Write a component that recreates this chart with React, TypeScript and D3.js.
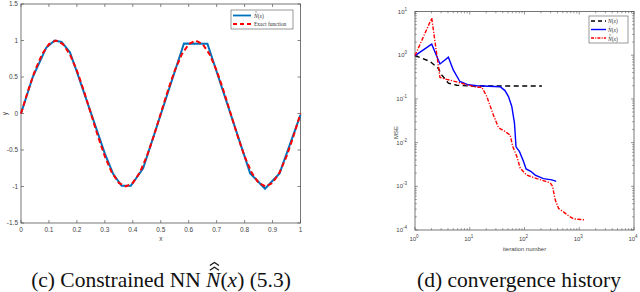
import React, { useRef, useEffect } from 'react';
import * as d3 from 'd3';

// left panel: NN fit vs exact function
const nnX = [0, 0.042, 0.09, 0.12, 0.145, 0.175, 0.2, 0.3, 0.33, 0.36, 0.393, 0.437, 0.583, 0.667, 0.82, 0.873, 0.925, 1];
const nnY = [0, 0.5, 0.9, 1.0, 0.98, 0.84, 0.57, -0.55, -0.83, -0.99, -0.99, -0.75, 0.96, 0.955, -0.82, -1.03, -0.82, -0.02];
const exactX = [0, 0.025, 0.05, 0.075, 0.1, 0.125, 0.15, 0.175, 0.2, 0.225, 0.25, 0.275, 0.3, 0.325, 0.35, 0.375, 0.4, 0.425, 0.45, 0.475, 0.5,
  0.525, 0.55, 0.575, 0.6, 0.625, 0.65, 0.675, 0.7, 0.725, 0.75, 0.775, 0.8, 0.825, 0.85, 0.875, 0.9, 0.925, 0.95, 0.975, 1];
const exactY = [0, 0.309, 0.588, 0.809, 0.951, 1, 0.951, 0.809, 0.588, 0.309, 0, -0.309, -0.588, -0.809, -0.951, -1, -0.951, -0.809, -0.588, -0.309, 0,
  0.309, 0.588, 0.809, 0.951, 1, 0.951, 0.809, 0.588, 0.309, 0, -0.309, -0.588, -0.809, -0.951, -1, -0.951, -0.809, -0.588, -0.309, 0];
const leftXTicks = [0, 0.1, 0.2, 0.3, 0.4, 0.5, 0.6, 0.7, 0.8, 0.9, 1];
const leftYTicks = [-1.5, -1, -0.5, 0, 0.5, 1, 1.5];

// right panel: convergence history
const nIter = [1, 1.88, 2.67, 3.07, 4.07, 5.8, 10, 50, 208];
const nMse = [0.98, 0.72, 0.5, 0.355, 0.23, 0.205, 0.198, 0.197, 0.197];
const hatIter = [1, 2.02, 2.86, 4.07, 5.0, 6.6, 9.4, 13.4, 35.9, 44, 51, 58.6, 65.6, 70, 81, 96, 107, 130, 157, 221, 316, 380];
const hatMse = [0.98, 1.79, 0.63, 0.9, 0.46, 0.25, 0.21, 0.2, 0.19, 0.155, 0.113, 0.067, 0.028, 0.008, 0.0062, 0.0037, 0.0025, 0.0022, 0.0018, 0.0015, 0.0014, 0.0013];
const hhIter = [1, 2.02, 2.86, 3.8, 5.8, 8.8, 13.4, 16.6, 20.5, 27, 33.5, 44, 54.6, 61, 72.5, 83.5, 110, 168, 295, 325, 364, 420, 515, 640, 790, 1290];
const hhMse = [0.98, 7.04, 0.31, 0.28, 0.245, 0.21, 0.185, 0.185, 0.113, 0.043, 0.022, 0.018, 0.015, 0.0081, 0.0048, 0.0026, 0.0018, 0.0015, 0.0012, 0.001, 0.00049, 0.00031, 0.00026, 0.00021, 0.00018, 0.00017];
const rightXExp = [0, 1, 2, 3, 4];
const rightYExp = [-4, -3, -2, -1, 0, 1];

type Part = { t: string; italic?: boolean; hats?: number };

const AX = '#555';
const LBL = '#444';
const SANS = "'Liberation Sans', Arial, sans-serif";
const SERIF = "'Liberation Serif', 'DejaVu Serif', serif";

function drawMath(g: any, x: number, y: number, parts: Part[], size: number, anchor: 'start' | 'middle', color: string) {
  const tmp = parts.map(p =>
    g.append('text')
      .attr('y', y)
      .attr('font-family', SERIF)
      .attr('font-size', size)
      .attr('font-style', p.italic ? 'italic' : 'normal')
      .attr('fill', color)
      .style('white-space', 'pre')
      .text(p.t)
  );
  const widths = tmp.map((t: any) => t.node().getComputedTextLength());
  const total = d3.sum(widths);
  let cx = anchor === 'middle' ? x - total / 2 : x;
  tmp.forEach((t: any, i: number) => {
    t.attr('x', cx);
    const hats = parts[i].hats || 0;
    for (let h = 0; h < hats; h++) {
      const mx = cx + widths[i] * 0.58;
      const hy = y - size * 0.78 - h * size * 0.22;
      const hw = widths[i] * 0.32;
      g.append('path')
        .attr('d', `M${mx - hw},${hy} L${mx},${hy - size * 0.14} L${mx + hw},${hy}`)
        .attr('fill', 'none')
        .attr('stroke', color)
        .attr('stroke-width', size * 0.05);
    }
    cx += widths[i];
  });
}

export default function App() {
  const ref = useRef<SVGSVGElement>(null);
  useEffect(() => {
    const svg = d3.select(ref.current);
    svg.selectAll('*').remove();
    svg.append('rect').attr('width', 640).attr('height', 292).attr('fill', '#fff');

    // ---------- left panel ----------
    const x = d3.scaleLinear().domain([0, 1]).range([21, 300.5]);
    const y = d3.scaleLinear().domain([-1.5, 1.5]).range([223, 4]);
    const L = svg.append('g');
    L.append('rect')
      .attr('x', 21).attr('y', 4).attr('width', 279.5).attr('height', 219)
      .attr('fill', 'none').attr('stroke', AX).attr('stroke-width', 0.8);
    leftXTicks.forEach(t => {
      L.append('line').attr('x1', x(t)).attr('x2', x(t)).attr('y1', 223).attr('y2', 220).attr('stroke', AX).attr('stroke-width', 0.7);
      L.append('line').attr('x1', x(t)).attr('x2', x(t)).attr('y1', 4).attr('y2', 7).attr('stroke', AX).attr('stroke-width', 0.7);
      L.append('text').attr('x', x(t)).attr('y', 232).attr('text-anchor', 'middle')
        .attr('font-family', SANS).attr('font-size', 6.5).attr('fill', LBL).text(String(t));
    });
    leftYTicks.forEach(t => {
      L.append('line').attr('x1', 21).attr('x2', 24).attr('y1', y(t)).attr('y2', y(t)).attr('stroke', AX).attr('stroke-width', 0.7);
      L.append('line').attr('x1', 300.5).attr('x2', 297.5).attr('y1', y(t)).attr('y2', y(t)).attr('stroke', AX).attr('stroke-width', 0.7);
      L.append('text').attr('x', 18).attr('y', y(t) + 2.3).attr('text-anchor', 'end')
        .attr('font-family', SANS).attr('font-size', 6.5).attr('fill', LBL).text(String(t));
    });
    L.append('text').attr('x', x(0.5)).attr('y', 241).attr('text-anchor', 'middle')
      .attr('font-family', SANS).attr('font-size', 6.5).attr('fill', LBL).text('x');
    L.append('text').attr('transform', `translate(6.5,${y(0)}) rotate(-90)`).attr('text-anchor', 'middle')
      .attr('font-family', SANS).attr('font-size', 6.5).attr('fill', LBL).text('y');

    const nnPath = d3.line<number>().x(d => x(d)).y((_, i) => y(nnY[i]));
    const exPath = d3.line<number>().x(d => x(d)).y((_, i) => y(exactY[i]));
    L.append('path').attr('d', nnPath(nnX)).attr('fill', 'none').attr('stroke', '#0072BD').attr('stroke-width', 2);
    L.append('path').attr('d', exPath(exactX)).attr('fill', 'none').attr('stroke', '#ff0000').attr('stroke-width', 2)
      .attr('stroke-dasharray', '5,3');

    // left legend
    L.append('rect').attr('x', 231).attr('y', 10).attr('width', 62).attr('height', 19)
      .attr('fill', '#fff').attr('stroke', AX).attr('stroke-width', 0.6);
    L.append('line').attr('x1', 233).attr('x2', 251).attr('y1', 15.5).attr('y2', 15.5).attr('stroke', '#0072BD').attr('stroke-width', 1.8);
    L.append('line').attr('x1', 233).attr('x2', 251).attr('y1', 24).attr('y2', 24).attr('stroke', '#ff0000').attr('stroke-width', 1.8)
      .attr('stroke-dasharray', '4,3');
    drawMath(L, 254, 17.5, [{ t: 'N', italic: true, hats: 2 }, { t: '(' }, { t: 'x', italic: true }, { t: ')' }], 5.5, 'start', '#333');
    drawMath(L, 254, 26, [{ t: 'Exact function' }], 5.5, 'start', '#333');

    // ---------- right panel ----------
    const rx = d3.scaleLog().domain([1, 1e4]).range([415, 634]);
    const ry = d3.scaleLog().domain([1e-4, 10]).range([230, 11.5]);
    const R = svg.append('g');
    R.append('rect')
      .attr('x', 415).attr('y', 11.5).attr('width', 219).attr('height', 218.5)
      .attr('fill', 'none').attr('stroke', AX).attr('stroke-width', 0.8);
    rightXExp.forEach(e => {
      for (let m = 1; m <= 9; m++) {
        if (e === 4 && m > 1) break;
        const v = m * Math.pow(10, e);
        const len = m === 1 ? 3 : 1.8;
        R.append('line').attr('x1', rx(v)).attr('x2', rx(v)).attr('y1', 230).attr('y2', 230 - len).attr('stroke', AX).attr('stroke-width', 0.6);
        R.append('line').attr('x1', rx(v)).attr('x2', rx(v)).attr('y1', 11.5).attr('y2', 11.5 + len).attr('stroke', AX).attr('stroke-width', 0.6);
      }
      const tx = R.append('text').attr('x', rx(Math.pow(10, e)) - 1).attr('y', 241).attr('text-anchor', 'middle')
        .attr('font-family', SANS).attr('font-size', 6).attr('fill', LBL);
      tx.append('tspan').text('10');
      tx.append('tspan').attr('dy', -3).attr('font-size', 4.5).text(String(e));
    });
    rightYExp.forEach(e => {
      for (let m = 1; m <= 9; m++) {
        if (e === 1 && m > 1) break;
        const v = m * Math.pow(10, e);
        const len = m === 1 ? 3 : 1.8;
        R.append('line').attr('x1', 415).attr('x2', 415 + len).attr('y1', ry(v)).attr('y2', ry(v)).attr('stroke', AX).attr('stroke-width', 0.6);
        R.append('line').attr('x1', 634).attr('x2', 634 - len).attr('y1', ry(v)).attr('y2', ry(v)).attr('stroke', AX).attr('stroke-width', 0.6);
      }
      const ty = R.append('text').attr('x', 407).attr('y', ry(Math.pow(10, e)) + 2).attr('text-anchor', 'end')
        .attr('font-family', SANS).attr('font-size', 6).attr('fill', LBL);
      ty.append('tspan').text('10');
      ty.append('tspan').attr('dy', -3).attr('font-size', 4.5).text(String(e));
    });
    R.append('text').attr('x', rx(100)).attr('y', 251).attr('text-anchor', 'middle')
      .attr('font-family', SANS).attr('font-size', 6).attr('fill', LBL).text('iteration number');
    R.append('text').attr('transform', `translate(398,${ry(0.01) - 10}) rotate(-90)`).attr('text-anchor', 'middle')
      .attr('font-family', SANS).attr('font-size', 6).attr('fill', LBL).text('MSE');

    const logLine = (xs: number[], ys: number[]) =>
      d3.line<number>().x(d => rx(d)).y((_, i) => ry(ys[i]))(xs);
    R.append('path').attr('d', logLine(nIter, nMse)).attr('fill', 'none').attr('stroke', '#000').attr('stroke-width', 1.4)
      .attr('stroke-dasharray', '5,3.5');
    R.append('path').attr('d', logLine(hatIter, hatMse)).attr('fill', 'none').attr('stroke', '#0000ff').attr('stroke-width', 1.4);
    R.append('path').attr('d', logLine(hhIter, hhMse)).attr('fill', 'none').attr('stroke', '#ff0000').attr('stroke-width', 1.4)
      .attr('stroke-dasharray', '4,1.5,1.2,1.5');

    // right legend
    R.append('rect').attr('x', 589).attr('y', 16).attr('width', 39).attr('height', 27)
      .attr('fill', '#fff').attr('stroke', AX).attr('stroke-width', 0.6);
    R.append('line').attr('x1', 591).attr('x2', 606).attr('y1', 21).attr('y2', 21).attr('stroke', '#000').attr('stroke-width', 1.4).attr('stroke-dasharray', '4,3');
    R.append('line').attr('x1', 591).attr('x2', 606).attr('y1', 29.5).attr('y2', 29.5).attr('stroke', '#0000ff').attr('stroke-width', 1.4);
    R.append('line').attr('x1', 591).attr('x2', 606).attr('y1', 38).attr('y2', 38).attr('stroke', '#ff0000').attr('stroke-width', 1.4).attr('stroke-dasharray', '3,1.2,1,1.2');
    drawMath(R, 608, 23, [{ t: 'N', italic: true }, { t: '(' }, { t: 'x', italic: true }, { t: ')' }], 5.5, 'start', '#333');
    drawMath(R, 608, 31.5, [{ t: 'N', italic: true, hats: 1 }, { t: '(' }, { t: 'x', italic: true }, { t: ')' }], 5.5, 'start', '#333');
    drawMath(R, 608, 40.5, [{ t: 'N', italic: true, hats: 2 }, { t: '(' }, { t: 'x', italic: true }, { t: ')' }], 5.5, 'start', '#333');

    // ---------- captions ----------
    drawMath(svg, 161, 287, [
      { t: '(c) Constrained NN\u00a0' }, { t: 'N', italic: true, hats: 2 }, { t: '(' }, { t: 'x', italic: true }, { t: ')\u00a0(5.3)' },
    ], 21.5, 'middle', '#111');
    drawMath(svg, 519, 287, [{ t: '(d) convergence history' }], 21.5, 'middle', '#111');
  }, []);
  return <svg ref={ref} width={640} height={292} style={{ display: 'block', position: 'absolute', left: 0, top: 0 }} />;
}
